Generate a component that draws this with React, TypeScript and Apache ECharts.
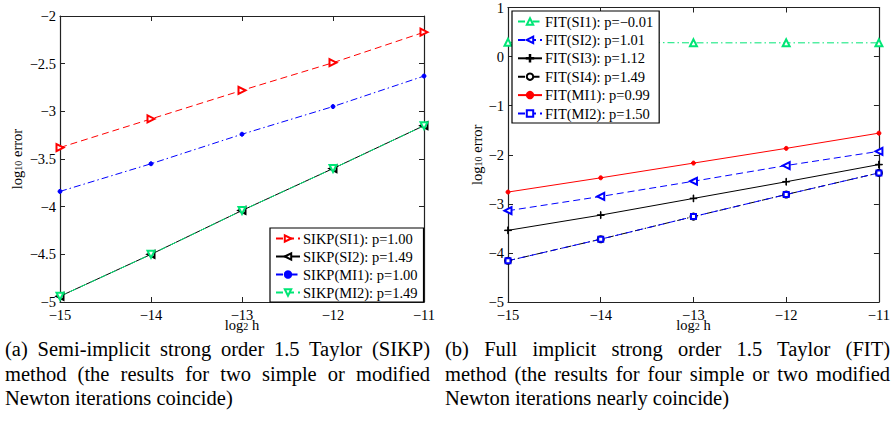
import React, { useEffect, useRef } from "react";
import * as echarts from "echarts";

const hVals = [-15, -14, -13, -12, -11];
const sikpSI1 = [-3.38, -3.08, -2.78, -2.49, -2.17];
const sikpSI2 = [-4.94, -4.5, -4.04, -3.6, -3.15];
const sikpMI1 = [-3.84, -3.55, -3.24, -2.95, -2.63];
const sikpMI2 = [-4.94, -4.5, -4.04, -3.6, -3.15];
const fitSI1 = [0.29, 0.29, 0.28, 0.28, 0.28];
const fitSI2 = [-3.14, -2.85, -2.54, -2.22, -1.93];
const fitSI3 = [-3.54, -3.23, -2.89, -2.55, -2.2];
const fitSI4 = [-4.16, -3.72, -3.26, -2.81, -2.37];
const fitMI1 = [-2.76, -2.47, -2.17, -1.87, -1.56];
const fitMI2 = [-4.16, -3.72, -3.26, -2.81, -2.37];

const leftNames = ["SIKP(SI1): p=1.00", "SIKP(SI2): p=1.49", "SIKP(MI1): p=1.00", "SIKP(MI2): p=1.49"];
const rightNames = [
  "FIT(SI1): p=\u22120.01",
  "FIT(SI2): p=1.01",
  "FIT(SI3): p=1.12",
  "FIT(SI4): p=1.49",
  "FIT(MI1): p=0.99",
  "FIT(MI2): p=1.50",
];
const captionA = [
  "(a) Semi-implicit strong order 1.5 Taylor (SIKP)",
  "method (the results for two simple or modified",
  "Newton iterations coincide)",
];
const captionB = [
  "(b) Full implicit strong order 1.5 Taylor (FIT)",
  "method (the results for four simple or two modified",
  "Newton iterations nearly coincide)",
];

const FONT = "Liberation Serif";
const RED = "#ff0000";
const BLUE = "#0000ff";
const BLACK = "#000000";
const GREEN = "#00e676";
const DASH = [7, 4];
const DASHDOT = [7, 3, 1.5, 3];
const PLUS = "path://M0,4.6H10V5.4H0Z M4.6,0H5.4V10H4.6Z";

const minusFmt = (v: number) => String(v).replace("-", "\u2212");

function mkSeries(
  name: string,
  gi: number,
  data: number[],
  color: string,
  lineType: any,
  symbol: string,
  size: number,
  rotate: number
) {
  return {
    type: "line",
    name,
    xAxisIndex: gi * 2,
    yAxisIndex: gi * 2,
    data: hVals.map((h, i) => [h, data[i]]),
    symbol,
    symbolSize: size,
    symbolRotate: rotate,
    showSymbol: true,
    lineStyle: { color, width: 1, type: lineType },
    itemStyle: { color, borderColor: color, borderWidth: 1 },
    emphasis: { disabled: true },
  };
}

function axisPair(gi: number, min: number, max: number, interval: number, isX: boolean, name: string, nameGap: number) {
  const common = {
    type: "value",
    gridIndex: gi,
    min,
    max,
    interval,
    splitLine: { show: false },
    axisLine: { show: true, onZero: false, lineStyle: { color: "#222", width: 1.2 } },
    axisTick: { show: true, inside: true, length: 5, lineStyle: { color: "#222" } },
  };
  const rich = {
    a: { fontFamily: FONT, fontSize: 14.5, color: "#000", lineHeight: 14, padding: [0, 0, 3, 0], verticalAlign: "top" },
    b: { fontFamily: FONT, fontSize: 10, color: "#000", lineHeight: 10, verticalAlign: "bottom" },
  };
  const main = {
    ...common,
    position: isX ? "bottom" : "left",
    name,
    nameLocation: "middle",
    nameGap,
    nameMoveOverlap: false,
    nameTextStyle: { fontFamily: FONT, fontSize: 14.5, color: "#000", rich },
    axisLabel: {
      show: true,
      fontFamily: FONT,
      fontSize: 14.5,
      color: "#000",
      margin: isX ? 5 : 4,
      formatter: minusFmt,
    },
  };
  const mirror = {
    ...common,
    position: isX ? "top" : "right",
    axisLabel: { show: false },
  };
  return [main, mirror];
}

function mkLegend(names: string[], left: number, top: number, gap: number) {
  return {
    data: names,
    orient: "vertical",
    left,
    top,
    itemWidth: 24,
    itemHeight: 8,
    itemGap: gap,
    padding: [3, 6, 2, 5],
    borderColor: "#000",
    borderWidth: 1.2,
    backgroundColor: "#fff",
    textStyle: { fontFamily: FONT, fontSize: 14.5, lineHeight: 14, color: "#000", padding: [0, 0, 0, -2] },
    selectedMode: false,
  };
}

export default function App() {
  const ref = useRef<HTMLDivElement>(null);
  useEffect(() => {
    if (!ref.current) return;
    const chart = echarts.init(ref.current, undefined, { renderer: "svg" });
    const option: any = {
      animation: false,
      backgroundColor: "#fff",
      grid: [
        { left: 60, top: 16, width: 364, height: 286, show: false },
        { left: 508, top: 7, width: 374, height: 295, show: false },
      ],
      xAxis: [
        ...axisPair(0, -15, -11, 1, true, "{a|log}{b|2}{a| h}", 15),
        ...axisPair(1, -15, -11, 1, true, "{a|log}{b|2}{a| h}", 15),
      ],
      yAxis: [
        ...axisPair(0, -5, -2, 0.5, false, "{a|log}{b|10}{a| error}", 37),
        ...axisPair(1, -5, 1, 1, false, "{a|log}{b|10}{a| error}", 25),
      ],
      legend: [mkLegend(leftNames, 270, 228, 3), mkLegend(rightNames, 512, 11, 3.4)],
      series: [
        mkSeries(leftNames[0], 0, sikpSI1, RED, DASH, "emptyTriangle", 7, -90),
        mkSeries(leftNames[1], 0, sikpSI2, BLACK, "solid", "emptyTriangle", 7, 90),
        mkSeries(leftNames[2], 0, sikpMI1, BLUE, DASHDOT, "circle", 4, 0),
        mkSeries(leftNames[3], 0, sikpMI2, GREEN, DASH, "emptyTriangle", 7, 180),
        mkSeries(rightNames[0], 1, fitSI1, GREEN, DASHDOT, "emptyTriangle", 7, 0),
        mkSeries(rightNames[1], 1, fitSI2, BLUE, DASH, "emptyTriangle", 7, 90),
        mkSeries(rightNames[2], 1, fitSI3, BLACK, "solid", PLUS, 7, 0),
        mkSeries(rightNames[3], 1, fitSI4, BLACK, DASHDOT, "emptyCircle", 6, 0),
        mkSeries(rightNames[4], 1, fitMI1, RED, "solid", "circle", 4, 0),
        mkSeries(rightNames[5], 1, fitMI2, BLUE, DASH, "emptyRect", 5, 0),
      ],
    };
    chart.setOption(option);
    return () => chart.dispose();
  }, []);

  const capLine = (text: string, last: boolean, key: number) => (
    <div
      key={key}
      style={{
        textAlign: last ? "left" : "justify",
        textAlignLast: last ? "left" : "justify",
        height: 24.5,
        lineHeight: "24.5px",
        whiteSpace: last ? "nowrap" : "normal",
      } as any}
    >
      {text}
    </div>
  );

  const capStyle = (left: number, width: number): React.CSSProperties => ({
    position: "absolute",
    left,
    top: 337,
    width,
    fontFamily: "'Liberation Serif', serif",
    fontSize: 20.5,
    color: "#000",
  });

  return (
    <div style={{ position: "fixed", left: 0, top: 0, width: 893, height: 422, background: "#fff", overflow: "hidden" }}>
      <div ref={ref} style={{ position: "absolute", left: 0, top: 0, width: 893, height: 422 }} />
      <div style={capStyle(5, 425)}>{captionA.map((t, i) => capLine(t, i === captionA.length - 1, i))}</div>
      <div style={capStyle(445, 445)}>{captionB.map((t, i) => capLine(t, i === captionB.length - 1, i))}</div>
    </div>
  );
}
